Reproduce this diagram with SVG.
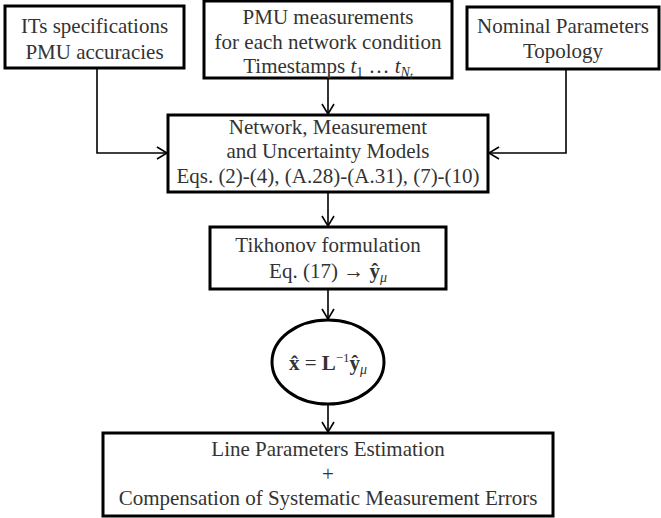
<svg xmlns="http://www.w3.org/2000/svg" width="661" height="518" viewBox="0 0 661 518">
<style>
.box{fill:#fff;stroke:#000;stroke-width:3}
.t{font-family:"Liberation Serif","Times New Roman",serif;font-size:21px;fill:#333;text-anchor:middle}
.c{fill:none;stroke:#000;stroke-width:1.6}
.m{font-style:italic}
.b{font-weight:bold}
</style>
<defs>
<marker id="ah" markerUnits="userSpaceOnUse" markerWidth="14" markerHeight="16" refX="11" refY="7" orient="auto" viewBox="0 0 14 14">
<path d="M1,1 L11,7 L1,13" fill="none" stroke="#000" stroke-width="1.6"/>
</marker>
</defs>
<g id="connectors">
<path class="c" d="M97,68 V153 H167" marker-end="url(#ah)"/>
<path class="c" d="M566,69 V153 H489" marker-end="url(#ah)"/>
<path class="c" d="M328,78 V114" marker-end="url(#ah)"/>
<path class="c" d="M328,192 V226" marker-end="url(#ah)"/>
<path class="c" d="M328,289 V319" marker-end="url(#ah)"/>
<path class="c" d="M328,405 V432" marker-end="url(#ah)"/>
</g>
<g id="n1">
<rect class="box" x="5" y="6" width="179" height="62"/>
<text class="t" x="94.5" y="33">ITs specifications</text>
<text class="t" x="94.5" y="59">PMU accuracies</text>
</g>
<g id="n2">
<rect class="box" x="204" y="1" width="248" height="77"/>
<text class="t" x="328" y="24">PMU measurements</text>
<text class="t" x="328" y="49">for each network condition</text>
<text class="t" x="328" y="73">Timestamps <tspan class="m">t</tspan><tspan font-size="14" dy="4">1</tspan><tspan dy="-4"> … </tspan><tspan class="m">t</tspan><tspan class="m" font-size="14" dy="4">N</tspan><tspan class="m" font-size="10" dy="2">t</tspan></text>
</g>
<g id="n3">
<rect class="box" x="467" y="7" width="192" height="62"/>
<text class="t" x="563" y="33">Nominal Parameters</text>
<text class="t" x="563" y="58">Topology</text>
</g>
<g id="n4">
<rect class="box" x="168" y="115" width="320" height="77"/>
<text class="t" x="328" y="134">Network, Measurement</text>
<text class="t" x="328" y="158">and Uncertainty Models</text>
<text class="t" x="328" y="183">Eqs. (2)-(4), (A.28)-(A.31), (7)-(10)</text>
</g>
<g id="n5">
<rect class="box" x="210" y="227" width="236" height="62"/>
<text class="t" x="328" y="252">Tikhonov formulation</text>
<text class="t" x="328" y="278">Eq. (17) → <tspan class="b">ŷ</tspan><tspan class="m" font-size="14" dy="4">μ</tspan></text>
</g>
<g id="n6">
<ellipse class="box" cx="328" cy="362" rx="56" ry="42"/>
<text class="t" x="328" y="370"><tspan class="b">x̂</tspan> = <tspan class="b">L</tspan><tspan font-size="13" dy="-8">−1</tspan><tspan class="b" dy="8">ŷ</tspan><tspan class="m" font-size="14" dy="4">μ</tspan></text>
</g>
<g id="n7">
<rect class="box" x="103" y="433" width="450" height="83"/>
<text class="t" x="328" y="456">Line Parameters Estimation</text>
<text class="t" x="328" y="481">+</text>
<text class="t" x="328" y="505">Compensation of Systematic Measurement Errors</text>
</g>
</svg>
